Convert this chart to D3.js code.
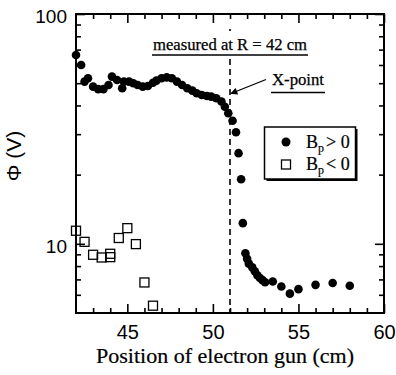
<!DOCTYPE html>
<html>
<head>
<meta charset="utf-8">
<script src="https://cdn.jsdelivr.net/npm/d3@7"></script>
<style>
  html, body { margin: 0; padding: 0; background: #fff; }
  svg { display: block; }
</style>
</head>
<body>
<script>
// Floating potential versus electron-gun position
const posPlus = [42.0, 42.3, 42.5, 42.7, 43.0, 43.3, 43.6, 43.9, 44.1, 44.4, 44.7, 44.8, 45.1, 45.35,
  45.6, 45.9, 46.2, 46.5, 46.7, 47.0, 47.3, 47.6, 47.9, 48.2, 48.5, 48.8, 49.05, 49.35, 49.65, 49.9,
  50.2, 50.5, 50.7, 50.9, 51.15, 51.35, 51.5, 51.65, 51.75, 51.9, 52.0, 52.1, 52.3, 52.45, 52.6,
  52.75, 52.9, 53.05, 53.5, 54.0, 54.5, 55.0, 56.0, 57.0, 58.0];
const phiPlus = [66.3, 60.0, 50.8, 52.5, 48.3, 47.1, 47.1, 49.1, 53.4, 51.6, 47.5, 50.8, 50.8, 50.0,
  49.1, 48.3, 48.6, 50.2, 51.3, 52.5, 53.0, 52.5, 50.8, 49.1, 47.5, 46.4, 45.2, 44.4, 44.0, 43.7,
  43.0, 41.6, 39.5, 37.0, 34.3, 30.6, 24.8, 19.1, 12.3, 9.1, 8.6, 8.2, 7.9, 7.6, 7.3,
  7.1, 6.95, 6.8, 6.86, 6.52, 6.07, 6.35, 6.63, 6.75, 6.57];

const posMinus = [42.0, 42.5, 43.0, 43.5, 44.0, 44.0, 44.5, 45.0, 45.5, 46.0, 46.5];
const phiMinus = [11.4, 10.2, 8.96, 8.72, 9.05, 8.75, 10.6, 11.7, 9.97, 6.79, 5.38];

const xMajor = [45, 50, 55, 60];
const xMinor = [43, 44, 46, 47, 48, 49, 51, 52, 53, 54, 56, 57, 58, 59];
const yMajor = [10, 100];
const yMinor = [6, 7, 8, 9, 20, 30, 40, 50, 60, 70, 80, 90];

const xPointPos = 51;

const W = 396, H = 375;
const L = 76, R = 384, T = 14, B = 313;
const serif = "'Liberation Serif', 'Times New Roman', serif";
const sans = "'Liberation Sans', Arial, sans-serif";

const svg = d3.select("body").append("svg").attr("width", W).attr("height", H);

const x = d3.scaleLinear().domain([42, 60]).range([L, R]);
const y = d3.scaleLog().domain([5, 100]).range([B, T]);

// marker for the X-point arrow
svg.append("defs").append("marker")
  .attr("id", "head").attr("viewBox", "0 0 10 10")
  .attr("refX", 9).attr("refY", 5)
  .attr("markerWidth", 9).attr("markerHeight", 7)
  .attr("markerUnits", "userSpaceOnUse")
  .attr("orient", "auto")
  .append("path").attr("d", "M0,0 L10,5 L0,10 Z").attr("fill", "#000");

// dashed vertical line at the X-point
svg.append("line")
  .attr("x1", x(xPointPos)).attr("x2", x(xPointPos))
  .attr("y1", T + 15).attr("y2", B)
  .attr("stroke", "#000").attr("stroke-width", 1.6)
  .attr("stroke-dasharray", "6,4");

// axes with inward ticks
function styleAxis(g) {
  g.select(".domain").remove();
  g.selectAll("line").attr("stroke", "#000").attr("stroke-width", 1.6);
  g.selectAll("text").attr("font-family", sans).attr("font-size", 19).attr("fill", "#000");
}
const gx = svg.append("g").attr("transform", `translate(0,${B})`);
gx.call(d3.axisBottom(x).tickValues(xMajor).tickSize(-9).tickPadding(12).tickFormat(d3.format("d"))).call(styleAxis);
gx.selectAll(".tick text").attr("dy", "0.71em").attr("font-size", 20);
svg.append("g").attr("transform", `translate(0,${B})`)
  .call(d3.axisBottom(x).tickValues(xMinor).tickSize(-5).tickFormat("")).call(styleAxis);
svg.append("g").attr("transform", `translate(0,${T})`)
  .call(d3.axisTop(x).tickValues(xMajor).tickSize(-9).tickFormat("")).call(styleAxis);
svg.append("g").attr("transform", `translate(0,${T})`)
  .call(d3.axisTop(x).tickValues(xMinor).tickSize(-5).tickFormat("")).call(styleAxis);

const gy = svg.append("g").attr("transform", `translate(${L},0)`);
gy.call(d3.axisLeft(y).tickValues(yMajor).tickSize(-9).tickPadding(9).tickFormat(d3.format("d"))).call(styleAxis);
gy.selectAll(".tick text").attr("dy", "0.45em");
svg.append("g").attr("transform", `translate(${L},0)`)
  .call(d3.axisLeft(y).tickValues(yMinor).tickSize(-5).tickFormat("")).call(styleAxis);
svg.append("g").attr("transform", `translate(${R},0)`)
  .call(d3.axisRight(y).tickValues(yMajor).tickSize(-9).tickFormat("")).call(styleAxis);
svg.append("g").attr("transform", `translate(${R},0)`)
  .call(d3.axisRight(y).tickValues(yMinor).tickSize(-5).tickFormat("")).call(styleAxis);

// frame
svg.append("rect").attr("x", L).attr("y", T).attr("width", R - L).attr("height", B - T)
  .attr("fill", "none").attr("stroke", "#000").attr("stroke-width", 2);

// annotation: measured at R = 42 cm
const capX = (x(48.5) + x(53.5)) / 2;
svg.append("rect").attr("x", capX - 80).attr("y", T + 17).attr("width", 160).attr("height", 24)
  .attr("fill", "#fff");
svg.append("text").attr("x", capX).attr("y", 50)
  .attr("text-anchor", "middle").attr("font-family", serif).attr("font-size", 16)
  .attr("stroke", "#000").attr("stroke-width", 0.25)
  .attr("textLength", 154).attr("lengthAdjust", "spacingAndGlyphs")
  .text("measured at R = 42 cm");
svg.append("line").attr("x1", capX - 78).attr("x2", capX + 78).attr("y1", 55).attr("y2", 55)
  .attr("stroke", "#000").attr("stroke-width", 1.3);

// annotation: X-point with arrow
svg.append("text").attr("x", 272).attr("y", 85)
  .attr("font-family", serif).attr("font-size", 17)
  .attr("stroke", "#000").attr("stroke-width", 0.25)
  .attr("textLength", 52).attr("lengthAdjust", "spacingAndGlyphs")
  .text("X-point");
svg.append("line").attr("x1", 271).attr("x2", 325).attr("y1", 92.5).attr("y2", 92.5)
  .attr("stroke", "#000").attr("stroke-width", 1.3);
svg.append("line").attr("x1", 266).attr("y1", 79.5).attr("x2", x(xPointPos) + 1).attr("y2", 93.5)
  .attr("stroke", "#000").attr("stroke-width", 1.3).attr("marker-end", "url(#head)");

// data: B_p < 0 (open squares)
const sq = 9;
svg.append("g").selectAll("rect").data(posMinus).join("rect")
  .attr("x", (d) => x(d) - sq / 2)
  .attr("y", (d, i) => y(phiMinus[i]) - sq / 2)
  .attr("width", sq).attr("height", sq)
  .attr("fill", "none").attr("stroke", "#000").attr("stroke-width", 1.3);

// data: B_p > 0 (filled circles)
svg.append("g").selectAll("circle").data(posPlus).join("circle")
  .attr("cx", (d) => x(d))
  .attr("cy", (d, i) => y(phiPlus[i]))
  .attr("r", 4.3).attr("fill", "#000");

// legend
const lg = svg.append("g");
lg.append("rect").attr("x", 266.5).attr("y", 129).attr("width", 91).attr("height", 52).attr("fill", "#000");
lg.append("rect").attr("x", 264.5).attr("y", 127).attr("width", 91).attr("height", 52)
  .attr("fill", "#fff").attr("stroke", "#000").attr("stroke-width", 1.5);
lg.append("circle").attr("cx", 286).attr("cy", 142).attr("r", 4.5).attr("fill", "#000");
lg.append("rect").attr("x", 286 - sq / 2).attr("y", 164.5 - sq / 2).attr("width", sq).attr("height", sq)
  .attr("fill", "#fff").attr("stroke", "#000").attr("stroke-width", 1.3);
[["> 0", 147.5], ["< 0", 170]].forEach(([s, yy]) => {
  const t = lg.append("text").attr("x", 306).attr("y", yy)
    .attr("font-family", serif).attr("font-size", 18).attr("fill", "#000")
    .attr("stroke", "#000").attr("stroke-width", 0.2);
  t.append("tspan").text("B");
  t.append("tspan").attr("font-size", 12).attr("dy", 4).text("p");
  t.append("tspan").attr("dy", -4).attr("dx", 2).text(s);
});

// axis titles
svg.append("text").attr("x", (L + R) / 2 - 5).attr("y", 363)
  .attr("text-anchor", "middle").attr("font-family", serif).attr("font-size", 20)
  .attr("stroke", "#000").attr("stroke-width", 0.2)
  .attr("textLength", 258).attr("lengthAdjust", "spacingAndGlyphs")
  .text("Position of electron gun (cm)");
svg.append("text").attr("transform", "translate(21,156) rotate(-90)")
  .attr("text-anchor", "middle").attr("font-family", sans).attr("font-size", 21)
  .text("Φ (V)");
</script>
</body>
</html>
